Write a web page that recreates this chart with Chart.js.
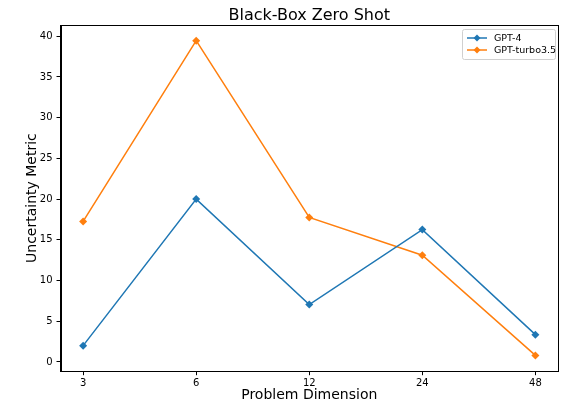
<!DOCTYPE html>
<html>
<head>
<meta charset="utf-8">
<script src="https://cdn.jsdelivr.net/npm/chart.js@4.4.0/dist/chart.umd.min.js"></script>
<style>
  html, body { margin: 0; padding: 0; background: #fff; }
  #wrap { width: 562px; height: 404px; }
</style>
</head>
<body>
<div id="wrap"><canvas id="myChart" width="562" height="404"></canvas></div>
<script>
// problem dimensions on the x axis
const dimensions = ['3', '6', '12', '24', '48'];
const gpt4 = [2.0, 20.0, 7.05, 16.25, 3.35];
const gptTurbo = [17.25, 39.45, 17.75, 13.1, 0.8];
const yTicks = [0, 5, 10, 15, 20, 25, 30, 35, 40];

const FONT = 'DejaVu Sans';

// frame + legend + title like matplotlib
const extras = {
    id: 'extras',
    afterDraw(chart) {
        let ctx = chart.ctx, a = chart.chartArea;
        ctx.save();
        ctx.strokeStyle = '#000';
        ctx.lineWidth = 1;
        ctx.strokeRect(Math.round(a.left) + 0.5, Math.round(a.top) + 0.5,
            Math.round(a.right - a.left), Math.round(a.bottom - a.top));

        // title
        ctx.fillStyle = '#000';
        ctx.font = '16px "' + FONT + '"';
        ctx.textAlign = 'center';
        ctx.textBaseline = 'alphabetic';
        ctx.fillText('Black-Box Zero Shot', (a.left + a.right) / 2, a.top - 5);

        // legend box
        let x = a.right - 96, y = a.top + 4, w = 93, h = 30;
        ctx.strokeStyle = '#d0d0d0';
        ctx.fillStyle = 'rgba(255,255,255,0.8)';
        ctx.beginPath();
        ctx.roundRect(x + 0.5, y + 0.5, w, h, 2);
        ctx.fill();
        ctx.stroke();
        ctx.font = '9.5px "' + FONT + '"';
        ctx.textAlign = 'left';
        ctx.textBaseline = 'middle';
        chart.data.datasets.forEach((ds, i) => {
            let cy = y + 9 + i * 12;
            ctx.strokeStyle = ds.borderColor;
            ctx.lineWidth = 1.5;
            ctx.beginPath();
            ctx.moveTo(x + 5, cy);
            ctx.lineTo(x + 25, cy);
            ctx.stroke();
            ctx.fillStyle = ds.borderColor;
            ctx.beginPath();
            ctx.moveTo(x + 15, cy - 3.5);
            ctx.lineTo(x + 18.5, cy);
            ctx.lineTo(x + 15, cy + 3.5);
            ctx.lineTo(x + 11.5, cy);
            ctx.closePath();
            ctx.fill();
            ctx.fillStyle = '#000';
            ctx.fillText(ds.label, x + 32, cy + 1);
        });
        ctx.restore();
    }
};

let ctx = document.getElementById('myChart');
let myChart = new Chart(ctx, {
    type: 'line',
    data: {
        labels: dimensions,
        datasets: [{
                label: 'GPT-4',
                data: gpt4.map((v, i) => ({ x: i, y: v })),
                borderColor: '#1f77b4',
                backgroundColor: '#1f77b4'
            },
            {
                label: 'GPT-turbo3.5',
                data: gptTurbo.map((v, i) => ({ x: i, y: v })),
                borderColor: '#ff7f0e',
                backgroundColor: '#ff7f0e'
            }
        ]
    },
    options: {
        responsive: false,
        animation: false,
        devicePixelRatio: 1,
        layout: { padding: { top: 25, right: 4, left: 0, bottom: 0 } },
        elements: {
            line: { borderWidth: 1.5, tension: 0 },
            point: { pointStyle: 'rectRot', radius: 4, hoverRadius: 4, borderWidth: 0 }
        },
        plugins: {
            legend: { display: false },
            title: { display: false },
            tooltip: { enabled: false }
        },
        scales: {
            x: {
                type: 'linear',
                min: -0.2,
                max: 4.2,
                afterBuildTicks: axis => {
                    axis.ticks = dimensions.map((d, i) => ({ value: i }));
                },
                ticks: {
                    color: '#000',
                    font: { family: FONT, size: 10 },
                    padding: 2,
                    maxRotation: 0,
                    callback: v => dimensions[v]
                },
                grid: { drawOnChartArea: false, drawTicks: true, tickLength: 4, color: '#000' },
                border: { color: '#000', width: 1 },
                title: {
                    display: true,
                    text: 'Problem Dimension',
                    color: '#000',
                    font: { family: FONT, size: 14 },
                    padding: { top: -4, bottom: 0 }
                }
            },
            y: {
                min: -1.14,
                max: 41.38,
                afterBuildTicks: axis => {
                    axis.ticks = yTicks.map(v => ({ value: v }));
                },
                ticks: {
                    color: '#000',
                    font: { family: FONT, size: 10 },
                    padding: 4
                },
                grid: { drawOnChartArea: false, drawTicks: true, tickLength: 4, color: '#000' },
                border: { color: '#000', width: 1 },
                title: {
                    display: true,
                    text: 'Uncertainty Metric',
                    color: '#000',
                    font: { family: FONT, size: 14 },
                    padding: { top: 24, bottom: -5 }
                }
            }
        }
    },
    plugins: [extras]
});
</script>
</body>
</html>
